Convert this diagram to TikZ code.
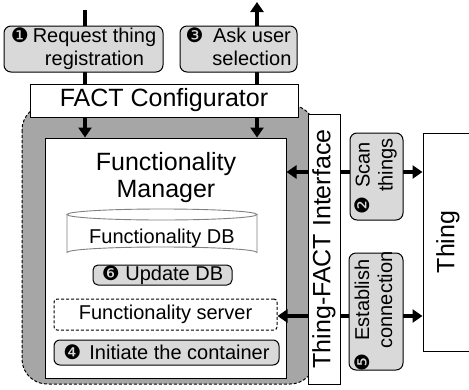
\documentclass[tikz,border=0pt]{standalone}
\usepackage{fontspec}
\setmainfont{Liberation Sans}
\newfontfamily\numfont{DejaVu Sans}
\usetikzlibrary{arrows.meta}
\definecolor{lightbox}{HTML}{D9D9D9}
\definecolor{regiongray}{HTML}{A6A6A6}
\newcommand\cn[1]{{\numfont #1}}
\newcommand\twoline[2]{\begin{tabular}[t]{@{}c@{}}#1\\#2\end{tabular}}
\tikzset{
  lbl/.style={draw, rounded corners=7pt, fill=lightbox, line width=1pt, inner sep=0pt, font=\fontsize{20}{23}\selectfont},
  plainbox/.style={draw, fill=white, line width=1pt, inner sep=0pt},
  bigtext/.style={font=\fontsize{25}{28}\selectfont},
  midtext/.style={font=\fontsize{20}{23}\selectfont},
  arr/.style={line width=4pt, -{Triangle[width=13pt,length=10pt]}},
  arrboth/.style={line width=4pt, {Triangle[width=13pt,length=10pt]}-{Triangle[width=13pt,length=10pt]}},
  dashedthin/.style={dashed, dash pattern=on 3pt off 2pt, line width=1pt},
}
\begin{document}
\begin{tikzpicture}[x=1pt, y=-1pt]
\useasboundingbox (0,0) rectangle (469,389);
% gray region
\draw[fill=regiongray, dashedthin, rounded corners=25pt] (22,105) rectangle (315,384);
% functionality manager box
\node[plainbox, minimum width=241pt, minimum height=240pt] (fm) at (165.5,258) {};
\node[bigtext, align=center] (fmt) at (166,178) {Functionality\\[-1pt]Manager};
% cylinder DB
\draw[draw=gray, line width=0.9pt, fill=white] (67,214.5) -- (67,252.5) arc[start angle=180, end angle=360, x radius=95, y radius=5.5] -- (257,214.5);
\draw[draw=gray, line width=0.9pt, fill=white] (162,214.5) ellipse [x radius=95, y radius=5.5];
\node[midtext] (db) at (162,238) {Functionality DB};
\node[lbl, rounded corners=5pt, minimum width=139pt, minimum height=20pt] (upd) at (162.5,275) {\cn{❻} Update DB};
\node[plainbox, dashedthin, rounded corners=3pt, minimum width=223pt, minimum height=31pt, midtext] (srv) at (165.5,314.5) {Functionality server};
\node[lbl, rounded corners=6pt, minimum width=225pt, minimum height=25pt] (init) at (166.5,352.5) {\cn{❹}\hspace{8pt}Initiate the container};
% thing box
\node[plainbox, minimum width=50pt, minimum height=218pt] (thing) at (448,242) {};
\node[bigtext, rotate=90] (thingt) at (448,242) {Thing};
% connectors
\coordinate (t1) at (85,10);
\coordinate (t3) at (257,2);
\coordinate (h1) at (300,172);
\coordinate (h2) at (300,316);
\draw[arr] (t1) -- (t1 |- fm.north);
\draw[arrboth] (t3 |- fm.north) -- (t3);
\draw[arrboth] (h1 -| fm.east) -- (h1 -| thing.west);
\draw[arrboth] (h2 -| srv.east) -- (h2 -| thing.west);
% top boxes
\node[lbl, minimum width=159pt, minimum height=46pt] (req) at (83.5,49) {\cn{❶}\hspace{4pt}\twoline{Request thing}{registration}};
\node[lbl, minimum width=117pt, minimum height=46pt] (ask) at (238.5,49) {\cn{❸}\hspace{9pt}\twoline{Ask user}{selection}};
\node[plainbox, bigtext, minimum width=268pt, minimum height=33pt] (conf) at (164,100.5) {FACT Configurator};
% interface
\node[plainbox, minimum width=32pt, minimum height=270pt] (iface) at (324,249) {};
\node[bigtext, rotate=90] (ifacet) at (324,249) {Thing-FACT Interface};
% side label boxes
\node[lbl, minimum width=53pt, minimum height=87pt] (scan) at (376.5,176.5) {};
\node[rotate=90, midtext, inner sep=0pt] (scant) at (376.5,176.5) {\cn{❷}\hspace{5pt}\twoline{Scan}{things}};
\node[lbl, minimum width=54pt, minimum height=117pt] (est) at (376,311.5) {};
\node[rotate=90, midtext, inner sep=0pt] (estt) at (376,311.5) {\cn{❺}\hspace{5pt}\twoline{Establish}{connection}};
\end{tikzpicture}
\end{document}
